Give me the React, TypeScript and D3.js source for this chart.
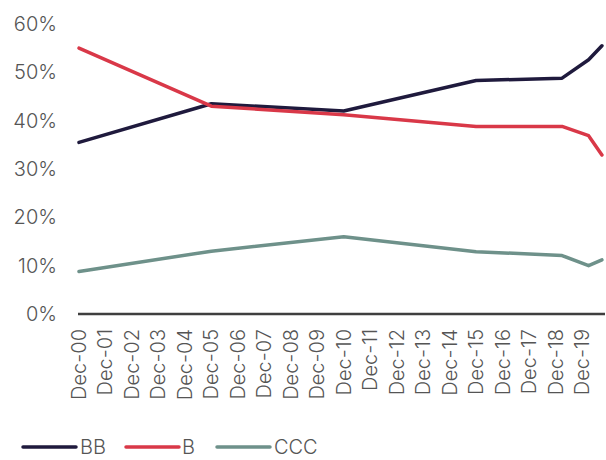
import React from "react";
import * as d3 from "d3";

// Share of each rating bucket over time
const dates = ["2000-12-01", "2005-12-01", "2010-12-01", "2015-12-01", "2019-03-01", "2020-03-01", "2020-09-01"];
const bbValues = [35.5, 43.5, 42.0, 48.3, 48.8, 52.6, 55.5];
const bValues = [55.0, 43.0, 41.2, 38.8, 38.8, 36.9, 32.9];
const cccValues = [8.8, 13.0, 16.0, 12.9, 12.1, 10.0, 11.2];

const seriesNames = ["BB", "B", "CCC"];
const seriesColors = ["#1f1a3d", "#d93848", "#6e918a"];

const yTicks = [0, 10, 20, 30, 40, 50, 60];
const tickYears = d3.range(2000, 2020);

const W = 606;
const H = 460;
const FONT = "Inter, 'Open Sans', sans-serif";

export default function App() {
  const parsed = dates.map((s) => new Date(s + "T00:00:00"));
  const x = d3
    .scaleTime()
    .domain([new Date("2000-12-01T00:00:00"), new Date("2019-12-01T00:00:00")])
    .range([79, 582]);
  const y = d3.scaleLinear().domain([0, 60]).range([314, 24]);

  const line = d3
    .line<number>()
    .x((_, i) => x(parsed[i]))
    .y((v) => y(v));

  const allSeries = [bbValues, bValues, cccValues];
  const fmt = d3.timeFormat("%b-%y");

  return (
    <svg
      width={W}
      height={H}
      style={{ position: "absolute", left: 0, top: 0, background: "#fff" }}
      fontFamily={FONT}
    >
      {/* y axis labels */}
      {yTicks.map((t) => (
        <text
          key={t}
          x={57}
          y={y(t)}
          textAnchor="end"
          dominantBaseline="central"
          fontSize={20}
          fontWeight={300}
          fill="#555"
        >
          {t}%
        </text>
      ))}

      {/* x axis line */}
      <line x1={78} x2={605} y1={y(0)} y2={y(0)} stroke="#3f3f3f" strokeWidth={2.5} />

      {/* x axis labels */}
      {tickYears.map((yr) => {
        const d = new Date(yr, 11, 1);
        const px = x(d);
        return (
          <text
            key={yr}
            transform={`translate(${px},329) rotate(-90)`}
            textAnchor="end"
            dominantBaseline="central"
            fontSize={20}
            fontWeight={300}
            fill="#555"
          >
            {fmt(d)}
          </text>
        );
      })}

      {/* series lines */}
      {allSeries.map((vals, i) => (
        <path
          key={seriesNames[i]}
          d={line(vals) || ""}
          fill="none"
          stroke={seriesColors[i]}
          strokeWidth={3.5}
          strokeLinejoin="round"
          strokeLinecap="round"
        />
      ))}

      {/* legend */}
      {[
        { lx: 23, tx: 80 },
        { lx: 126, tx: 182 },
        { lx: 217, tx: 274 },
      ].map((p, i) => (
        <g key={seriesNames[i]}>
          <line
            x1={p.lx}
            x2={p.lx + 53}
            y1={447}
            y2={447}
            stroke={seriesColors[i]}
            strokeWidth={3.5}
            strokeLinecap="round"
          />
          <text
            x={p.tx}
            y={447}
            dominantBaseline="central"
            fontSize={20}
            fontWeight={300}
            fill="#555"
          >
            {seriesNames[i]}
          </text>
        </g>
      ))}
    </svg>
  );
}
